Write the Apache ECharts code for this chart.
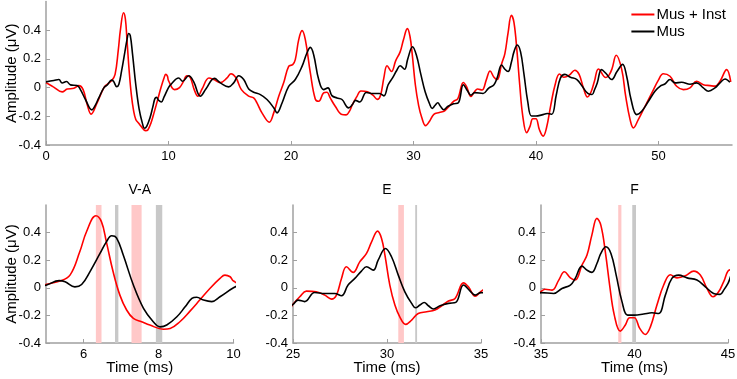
<!DOCTYPE html>
<html>
<head>
<meta charset="utf-8">
<script src="https://cdn.jsdelivr.net/npm/echarts@6/dist/echarts.min.js"></script>
<style>
  html, body { margin: 0; padding: 0; background: #fff; }
  #chart { width: 737px; height: 379px; }
</style>
</head>
<body>
<div id="chart"></div>
<script>
// Mus + Inst (red) — time in ms, amplitude in µV
const redT = [0, 0.6, 1.32, 1.73, 2.27, 2.68, 3.03, 3.36, 3.68, 4.17, 4.72, 5.02, 5.37, 5.64, 5.9, 6.08, 6.33, 6.48, 6.61, 6.79,
  6.97, 7.15, 7.33, 7.55, 7.77, 8.13, 8.31, 8.57, 8.84, 9.1, 9.37, 9.64, 9.77, 9.91, 10.0, 10.5, 10.9, 11.2, 11.5, 11.78,
  12.1, 12.4, 12.74, 13.3, 13.7, 14.23, 14.78, 15.1, 15.5, 15.95, 16.55, 16.95, 17.22, 17.63, 18.23, 18.59, 19.0, 19.4, 19.81, 20.14,
  20.35, 20.63, 20.9, 21.17, 21.58, 21.98, 22.26, 22.66, 22.93, 23.2, 23.61, 24.16, 24.5, 24.8, 25.0, 25.36, 25.71, 26.24, 26.69, 27.05,
  27.31, 27.58, 27.84, 28.2, 28.55, 28.91, 29.18, 29.5, 29.71, 29.89, 30.15, 30.42, 30.68, 30.99, 31.31, 31.66, 32.11, 32.55, 32.91, 33.27,
  33.62, 34.07, 34.33, 34.69, 35.0, 35.23, 35.59, 35.95, 36.25, 36.57, 36.83, 37.19, 37.46, 37.72, 37.99, 38.2, 38.44, 38.67, 38.92, 39.24,
  39.51, 39.74, 39.99, 40.28, 40.58, 40.85, 41.2, 41.56, 41.92, 42.27, 42.72, 43.17, 43.52, 43.88, 44.2, 44.5, 44.77, 45.1, 45.7, 45.95,
  46.2, 46.55, 47.0, 47.32, 47.68, 47.95, 48.35, 48.9, 49.5, 49.98, 50.39, 50.94, 51.48, 52.03, 52.57, 53.11, 53.66, 54.2, 54.61, 55.02,
  55.56, 55.9]
const redV = [0.035, 0.005, -0.03, -0.01, -0.005, 0.014, -0.014, -0.118, -0.185, -0.107, -0.002, 0.025, 0.049, 0.092, 0.261, 0.406, 0.522, 0.478, 0.333, 0.116,
  -0.053, -0.161, -0.222, -0.246, -0.27, -0.3, -0.295, -0.246, -0.169, -0.089, -0.005, 0.068, 0.092, 0.08, 0.049, -0.014, 0.0, 0.04, 0.083, 0.07,
  -0.014, -0.06, -0.01, 0.067, 0.056, 0.035, 0.067, 0.097, 0.07, -0.014, -0.06, -0.072, -0.107, -0.176, -0.241, -0.176, -0.06, 0.033, 0.148, 0.16,
  0.195, 0.334, 0.397, 0.334, 0.102, -0.079, -0.095, -0.037, -0.032, -0.072, -0.13, -0.188, -0.19, -0.16, -0.12, -0.065, -0.024, -0.029, -0.053, -0.082,
  -0.053, 0.068, 0.152, 0.112, 0.188, 0.249, 0.333, 0.411, 0.358, 0.237, 0.02, -0.125, -0.21, -0.265, -0.234, -0.186, -0.174, -0.161, -0.13, -0.096,
  -0.077, 0.036, 0.007, -0.061, -0.027, -0.01, -0.017, 0.056, 0.116, 0.072, 0.056, 0.164, 0.237, 0.382, 0.503, 0.454, 0.261, 0.02, -0.198, -0.314,
  -0.27, -0.217, -0.217, -0.294, -0.338, -0.283, -0.125, 0.02, 0.095, 0.072, 0.087, 0.121, 0.092, -0.005, -0.065, -0.029, 0.044, 0.13, 0.07, 0.085,
  0.13, 0.225, 0.125, -0.06, -0.223, -0.281, -0.223, -0.13, -0.03, 0.05, 0.097, 0.079, 0.009, -0.014, -0.002, 0.044, 0.02, 0.014, 0.01, 0.044,
  0.125, 0.04]

// Mus (black)
const blackT = [0, 0.64, 1.05, 1.32, 1.67, 2.0, 2.54, 2.81, 3.22, 3.75, 3.95, 4.31, 4.72, 5.02, 5.35, 5.51, 5.77, 5.95, 6.17, 6.44,
  6.61, 6.75, 6.88, 7.06, 7.33, 7.6, 7.86, 8.04, 8.22, 8.49, 8.71, 8.89, 9.02, 9.2, 9.42, 9.64, 10.0, 10.2, 10.83, 11.15,
  11.65, 12.06, 12.6, 13.05, 13.75, 14.23, 14.91, 15.32, 15.73, 16.14, 16.55, 16.95, 17.5, 18.04, 18.59, 18.86, 19.27, 19.81, 20.35, 20.9,
  21.3, 21.58, 21.85, 22.26, 22.66, 23.02, 23.34, 23.75, 24.16, 24.7, 25.0, 25.27, 25.62, 26.15, 26.69, 27.22, 27.58, 27.93, 28.29, 28.64,
  28.91, 29.27, 29.53, 29.92, 30.24, 30.6, 30.95, 31.31, 31.52, 31.75, 31.98, 32.2, 32.47, 32.82, 33.27, 33.66, 34.07, 34.42, 34.69, 35.0,
  35.68, 36.12, 36.57, 36.83, 37.19, 37.46, 37.72, 37.99, 38.2, 38.47, 38.74, 39.02, 39.33, 39.63, 39.99, 40.49, 40.93, 41.29, 41.65, 42.0,
  42.36, 42.81, 43.34, 43.79, 44.23, 44.58, 44.77, 45.0, 45.35, 45.7, 46.18, 46.6, 47.07, 47.4, 47.76, 48.22, 48.63, 49.18, 49.71, 50.12,
  50.52, 50.94, 51.35, 51.89, 52.57, 53.11, 53.66, 54.07, 54.61, 55.02, 55.43, 55.83]
const blackV = [0.04, 0.049, 0.056, 0.032, 0.042, 0.019, 0.014, -0.014, -0.083, -0.155, -0.135, -0.072, -0.002, 0.02, 0.052, 0.044, 0.007, 0.024, 0.116, 0.249,
  0.333, 0.377, 0.362, 0.237, 0.02, -0.149, -0.246, -0.283, -0.27, -0.21, -0.138, -0.077, -0.068, -0.089, -0.1, -0.065, 0.0, 0.023, 0.067, 0.044,
  0.083, 0.04, -0.06, -0.01, 0.064, 0.033, 0.005, 0.033, 0.083, 0.056, -0.009, -0.032, -0.049, -0.083, -0.141, -0.176, -0.107, 0.009, 0.056, 0.148,
  0.241, 0.28, 0.229, 0.056, -0.014, -0.002, -0.056, -0.072, -0.083, -0.141, -0.12, -0.089, -0.1, -0.034, -0.041, -0.041, -0.058, 0.02, 0.068, 0.121,
  0.152, 0.128, 0.2, 0.285, 0.225, 0.092, -0.029, -0.113, -0.145, -0.125, -0.106, -0.13, -0.154, -0.13, -0.113, -0.106, 0.02, -0.024, -0.053, -0.035,
  -0.041, -0.005, 0.02, 0.068, 0.157, 0.128, 0.112, 0.176, 0.249, 0.297, 0.249, 0.092, -0.1, -0.198, -0.198, -0.19, -0.181, -0.186, -0.053, 0.068,
  0.092, 0.072, 0.056, 0.007, -0.041, -0.048, -0.017, 0.032, 0.125, 0.1, 0.056, 0.11, 0.162, 0.079, -0.083, -0.188, -0.165, -0.095, -0.025, 0.009,
  0.025, 0.056, 0.033, 0.037, 0.023, 0.033, -0.002, -0.025, -0.002, 0.033, 0.06, 0.037]

// zoomed windows [min, max] and their shaded latency bands
const panelTitles = ['V-A', 'E', 'F']
const panelRanges = [[5, 10], [25, 35], [35, 45]]
const panelTicks = [[6, 8, 10], [25, 30, 35], [35, 40, 45]]
const redBands = [[[6.33, 6.48], [7.28, 7.55]], [[30.6, 30.9]], [[39.13, 39.3]]]
const greyBands = [[[6.84, 6.93], [7.93, 8.1]], [[31.5, 31.6]], [[39.88, 40.08]]]
const topTicks = [0, 10, 20, 30, 40, 50]
const yTicks = [-0.4, -0.2, 0, 0.2, 0.4]

const font = 'Arial, "Liberation Sans", sans-serif'
const axisGrey = '#a0a0a0'
const RED = '#ff0000'
const BLACK = '#000000'

const chart = echarts.init(document.getElementById('chart'))

const redData = redT.map((t, i) => [t, redV[i]])
const blackData = blackT.map((t, i) => [t, blackV[i]])

const grids = [
  { left: 46, top: 1.5, width: 686, height: 143.5 },
  { left: 46, top: 205, width: 187.5, height: 138 },
  { left: 293, top: 205, width: 188, height: 138 },
  { left: 541, top: 205, width: 187, height: 138 }
].map(g => ({ ...g, containLabel: false, outerBoundsMode: 'none' }))

const xAxisBase = (gi, min, max, ticks, name) => ({
  type: 'value',
  gridIndex: gi,
  min,
  max,
  name: name || '',
  nameLocation: 'middle',
  nameGap: 17,
  nameMoveOverlap: false,
  nameTextStyle: { color: '#000', fontSize: 15, fontFamily: font },
  splitLine: { show: false },
  axisLine: { onZero: false, lineStyle: { color: axisGrey, width: 1.5 } },
  axisTick: { inside: true, length: 4, lineStyle: { color: axisGrey }, customValues: ticks },
  axisLabel: { color: '#000', fontSize: 13, fontFamily: font, margin: 5, customValues: ticks }
})

const yAxisBase = (gi, name) => ({
  type: 'value',
  gridIndex: gi,
  min: -0.4,
  max: 0.6,
  name: name || '',
  nameLocation: 'middle',
  nameGap: 27,
  nameMoveOverlap: false,
  nameTextStyle: { color: '#000', fontSize: 15, fontFamily: font },
  splitLine: { show: false },
  axisLine: { show: true, lineStyle: { color: axisGrey, width: 1.5 } },
  axisTick: { inside: true, length: 4, lineStyle: { color: axisGrey }, customValues: yTicks },
  axisLabel: { color: '#000', fontSize: 13, fontFamily: font, margin: 5, customValues: yTicks }
})

const xAxes = [xAxisBase(0, 0, 56, topTicks)]
const yAxes = [yAxisBase(0, 'Amplitude (μV)')]
panelRanges.forEach((r, i) => {
  xAxes.push(xAxisBase(i + 1, r[0], r[1], panelTicks[i], 'Time (ms)'))
  yAxes.push(yAxisBase(i + 1, i === 0 ? 'Amplitude (μV)' : ''))
})

const bandArea = (bands, color) => bands.map(b => [
  { xAxis: b[0], itemStyle: { color } },
  { xAxis: b[1] }
])

const series = []
for (let gi = 0; gi < 4; gi++) {
  const p = gi - 1
  const areas = p >= 0
    ? bandArea(redBands[p], '#ffc8c8').concat(bandArea(greyBands[p], '#c8c8c8'))
    : []
  series.push({
    name: 'Mus + Inst',
    type: 'line',
    xAxisIndex: gi,
    yAxisIndex: gi,
    data: redData,
    smooth: 0.4,
    symbol: 'none',
    color: RED,
    lineStyle: { color: RED, width: 1.6 },
    markArea: areas.length ? { silent: true, data: areas } : undefined
  })
  series.push({
    name: 'Mus',
    type: 'line',
    xAxisIndex: gi,
    yAxisIndex: gi,
    data: blackData,
    smooth: 0.4,
    symbol: 'none',
    color: BLACK,
    lineStyle: { color: BLACK, width: 1.6 }
  })
}

const titleCenters = [139.75, 387, 634.5]

chart.setOption({
  animation: false,
  title: panelTitles.map((t, i) => ({
    text: t,
    left: titleCenters[i],
    top: 183,
    textAlign: 'center',
    padding: 0,
    textStyle: { color: '#000', fontSize: 14, fontWeight: 'normal', fontFamily: font }
  })),
  legend: {
    data: ['Mus + Inst', 'Mus'],
    orient: 'vertical',
    right: 11,
    top: 7,
    icon: 'rect',
    itemWidth: 23,
    itemHeight: 2,
    itemGap: 2,
    padding: 0,
    textStyle: { color: '#000', fontSize: 15, fontFamily: font, padding: [0, 0, 0, -3] }
  },
  grid: grids,
  xAxis: xAxes,
  yAxis: yAxes,
  series
})

window.addEventListener('resize', () => chart.resize())
</script>
</body>
</html>
